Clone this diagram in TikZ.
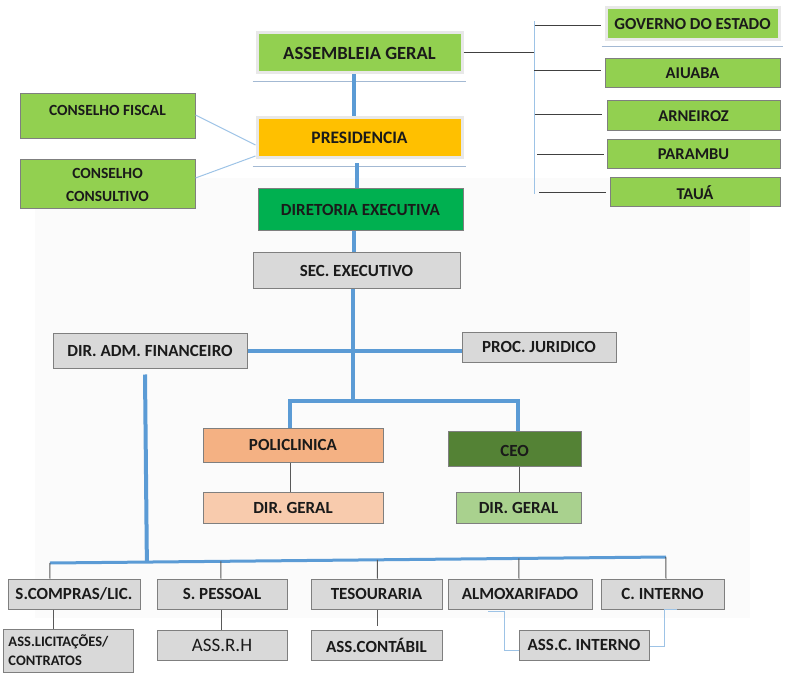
\documentclass[tikz,border=0pt]{standalone}
\usepackage{fontspec}
\setmainfont{Carlito}
\usetikzlibrary{calc}
\definecolor{lgreen}{HTML}{92D050}
\definecolor{dgreen}{HTML}{00B050}
\definecolor{orangeY}{HTML}{FFC000}
\definecolor{boxgray}{HTML}{D9D9D9}
\definecolor{edgegray}{HTML}{7F7F7F}
\definecolor{bline}{HTML}{5B9BD5}
\definecolor{lbline}{HTML}{9DC3E6}
\definecolor{salmon}{HTML}{F4B183}
\definecolor{lsalmon}{HTML}{F8CBAD}
\definecolor{olive}{HTML}{548235}
\definecolor{lolive}{HTML}{A9D18E}
\definecolor{txt}{HTML}{1A1A1A}
\definecolor{shadowc}{HTML}{A3B9D3}
\tikzset{
  box/.style={draw=edgegray, line width=1pt, inner sep=0pt, text=txt, align=center,
    font=\fontsize{17}{20}\selectfont\bfseries},
  framebox/.style={draw=black!9, line width=3pt, inner sep=0pt, text=txt, align=center,
    font=\fontsize{17.5}{20}\selectfont\bfseries},
  gbox/.style={box, fill=boxgray},
  bl/.style={draw=bline, line width=4pt},
  bus/.style={draw=bline, line width=3pt},
  thinl/.style={draw=lbline, line width=1pt},
  drop/.style={draw=black!65, line width=1pt},
  rline/.style={draw=black!75, line width=1pt},
  shline/.style={draw=shadowc, line width=1.5pt},
}
\begin{document}
\begin{tikzpicture}[x=1pt,y=-1pt]
\useasboundingbox (0,0) rectangle (790,679);
\fill[black!1.5] (35,178) rectangle (750,618);

% top column
\node[framebox, fill=lgreen, minimum width=205, minimum height=40,
  font=\fontsize{18.6}{20}\selectfont\bfseries] (ag) at (359.5,53) {ASSEMBLEIA GERAL};
\draw[shline] ([yshift=-7pt,xshift=-3pt]ag.south west) -- ([yshift=-7pt,xshift=2pt]ag.south east);
\node[framebox, fill=orangeY, minimum width=205, minimum height=40] (pres) at (359.5,138) {PRESIDENCIA};
\draw[shline] ([yshift=-7pt,xshift=-3pt]pres.south west) -- ([yshift=-7pt,xshift=2pt]pres.south east);
\node[box, fill=dgreen, minimum width=205, minimum height=42] (dir) at (360.5,210) {DIRETORIA EXECUTIVA};
\node[gbox, minimum width=207, minimum height=35] (sec) at (356.5,270.5) {SEC. EXECUTIVO};

% conselhos
\node[box, fill=lgreen, minimum width=175, minimum height=45, text depth=13pt,
  font=\fontsize{15.5}{23}\selectfont\bfseries] (cf) at (107.5,116.5) {CONSELHO FISCAL};
\node[box, fill=lgreen, minimum width=175, minimum height=49,
  font=\fontsize{15.5}{23}\selectfont\bfseries] (cc) at (107.5,184.5) {CONSELHO\\CONSULTIVO};

% right group
\node[framebox, fill=lgreen, minimum width=173, minimum height=32,
  font=\fontsize{16.8}{20}\selectfont\bfseries] (gov) at (692.5,24) {GOVERNO DO ESTADO};
\draw[shline] ([yshift=-5pt,xshift=-3pt]gov.south west) -- ([yshift=-5pt,xshift=2pt]gov.south east);
\node[box, fill=lgreen, minimum width=175, minimum height=29, font=\fontsize{16.5}{20}\selectfont\bfseries] (aiu) at (692.5,73.5) {AIUABA};
\node[box, fill=lgreen, minimum width=173, minimum height=30, font=\fontsize{16.5}{20}\selectfont\bfseries] (arn) at (693.5,116) {ARNEIROZ};
\node[box, fill=lgreen, minimum width=173, minimum height=29, font=\fontsize{16.5}{20}\selectfont\bfseries] (par) at (693.5,154.5) {PARAMBU};
\node[box, fill=lgreen, minimum width=170, minimum height=29, font=\fontsize{16.5}{20}\selectfont\bfseries] (tau) at (695,192.5) {TAUÁ};

\coordinate (vtop) at (534,21);
\coordinate (vbot) at (534,194);
\draw[thinl] (vtop) -- (vbot);
\draw[rline] (ag.east) -- (ag.east -| vtop);
\draw[rline] ([xshift=1pt,yshift=-2pt]gov.west -| vtop) -- ([xshift=-4pt,yshift=-2pt]gov.west);
\draw[rline] ([yshift=2.5pt]aiu.west -| vtop) -- ([xshift=-4pt,yshift=2.5pt]aiu.west);
\draw[rline] ([xshift=1pt,yshift=1pt]arn.west -| vtop) -- ([xshift=-5pt,yshift=1pt]arn.west);
\draw[rline] ([xshift=3pt]par.west -| vtop) -- ([xshift=-3pt]par.west);
\draw[rline] ([xshift=5pt]tau.west -| vtop) -- ([xshift=-4pt]tau.west);

% conselho connectors
\draw[thinl] ([yshift=1.5pt]cf.east) -- ([yshift=-7pt]pres.west);
\draw[thinl] ([yshift=6.5pt]cc.east) -- ([yshift=-18pt]pres.west);

% main spine
\draw[bl] ([xshift=-5.5pt]ag.south) -- ([xshift=-5.5pt]pres.north);
\draw[bl] ([xshift=-2.5pt,yshift=-4pt]pres.south) -- ([xshift=-3.5pt]dir.north);
\draw[bl] ([xshift=-6.5pt]dir.south) -- ([xshift=-2.5pt]sec.north);

\node[gbox, minimum width=194, minimum height=35] (daf) at (150,350.5) {DIR. ADM. FINANCEIRO};
\node[gbox, minimum width=154, minimum height=30] (pj) at (539,347) {PROC. JURIDICO};
\node[box, fill=salmon, minimum width=180, minimum height=34] (poli) at (293,445) {POLICLINICA};
\node[box, fill=olive, minimum width=133, minimum height=35, text height=16pt, text depth=0pt] (ceo) at (514.5,448.5) {CEO};
\node[box, fill=lsalmon, minimum width=180, minimum height=31] (dgp) at (293,507.5) {DIR. GERAL};
\node[box, fill=lolive, minimum width=125, minimum height=31] (dgc) at (518.5,507.5) {DIR. GERAL};

\coordinate (j1) at (352.5,401);
\draw[bl] ([xshift=-4pt]sec.south) -- (j1);
\draw[bl] ([yshift=-0.5pt]daf.east) -- ([yshift=-0.5pt]daf.east -| pj.west);
\draw[bl] ([xshift=-3pt]poli.north) |- (j1) -| ([xshift=3.5pt]ceo.north);
\draw[drop] ([xshift=-3pt]poli.south) -- ([xshift=-3pt]dgp.north);
\draw[drop] ([xshift=4.5pt]ceo.south) -- ([xshift=0.5pt]dgc.north);

% bottom
\node[gbox, minimum width=132, minimum height=30] (sc) at (74,594) {S.COMPRAS/LIC.};
\node[gbox, minimum width=130, minimum height=30] (sp) at (222,594) {S. PESSOAL};
\node[gbox, minimum width=131, minimum height=30] (tes) at (376.5,594) {TESOURARIA};
\node[gbox, minimum width=144, minimum height=30] (alm) at (520,594) {ALMOXARIFADO};
\node[gbox, minimum width=123, minimum height=30] (ci) at (662.5,594) {C. INTERNO};

\node[gbox, minimum width=130, minimum height=43, align=left, text width=119,
  font=\fontsize{14.5}{19}\selectfont\bfseries] (alc) at (68,650.5) {ASS.LICITAÇÕES/\\CONTRATOS};
\node[gbox, minimum width=130, minimum height=30, font=\fontsize{19}{20}\selectfont] (arh) at (222,645) {ASS.R.H};
\node[gbox, minimum width=131, minimum height=30] (acont) at (376.5,645) {ASS.CONTÁBIL};
\node[gbox, minimum width=130, minimum height=30] (aci) at (584,645) {ASS.C. INTERNO};

\coordinate (busL) at (50,563);
\coordinate (busR) at (666,557);
\draw[bl] ([xshift=-5pt,yshift=-6pt]daf.south) -- ($(busL)!([xshift=-5pt]daf.south)!(busR)$);
\draw[bus] (busL) -- (busR);
\draw[drop] ([xshift=-24pt]sc.north) -- ($(busL)!([xshift=-24pt]sc.north)!(busR)$);
\draw[drop] ([xshift=-1pt]sp.north) -- ($(busL)!([xshift=-1pt]sp.north)!(busR)$);
\draw[drop] ([xshift=1pt]tes.north) -- ($(busL)!([xshift=1pt]tes.north)!(busR)$);
\draw[drop] ([xshift=-1pt]alm.north) -- ($(busL)!([xshift=-1pt]alm.north)!(busR)$);
\draw[drop] ([xshift=3.5pt]ci.north) -- ($(busL)!([xshift=3.5pt]ci.north)!(busR)$);

\draw[drop] ([xshift=-21pt]sc.south) -- ([xshift=-21pt]sc.south |- alc.north);
\draw[drop] ([xshift=-1pt]sp.south) -- ([xshift=-1pt]sp.south |- arh.north);
\draw[drop] ([xshift=0.5pt]tes.south) -- ([xshift=0.5pt,yshift=4pt]tes.south |- acont.north);

\draw[thinl] ([xshift=-32pt,yshift=-2pt]alm.south) -- ++(16,0) |- ([yshift=-5pt]aci.west);
\draw[thinl] ([xshift=1.5pt]ci.south) -- ++(13,0);
\draw[thinl] ([xshift=1.5pt]ci.south) |- ([yshift=-1pt]aci.east);
\end{tikzpicture}
\end{document}
